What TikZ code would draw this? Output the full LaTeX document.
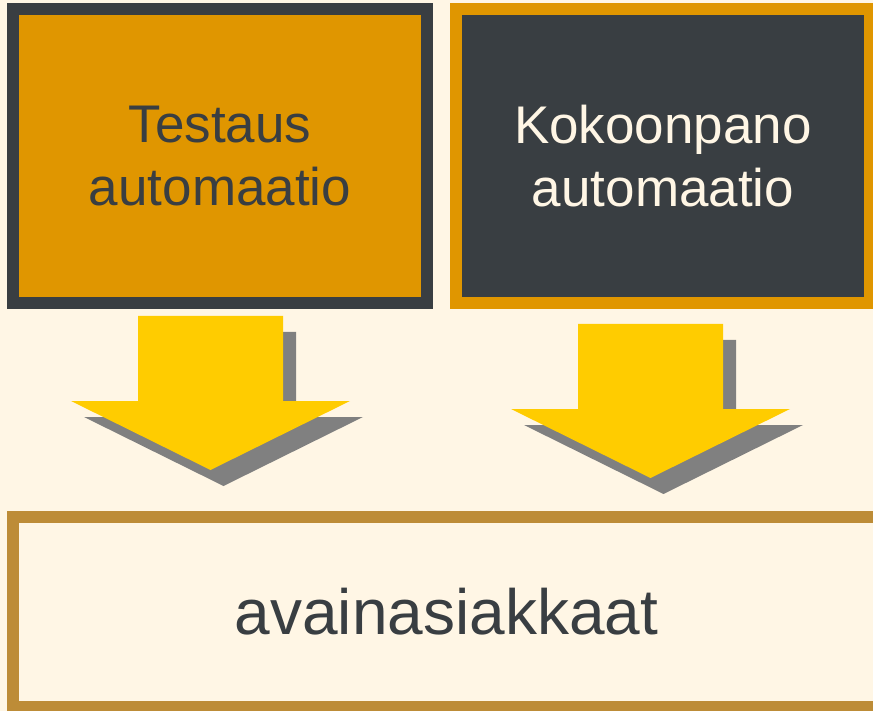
\documentclass[tikz,border=0pt]{standalone}
\usepackage{fontspec}
\setmainfont{Liberation Sans}
\usetikzlibrary{positioning}

\definecolor{bgcream}{HTML}{FFF6E5}
\definecolor{boxorange}{HTML}{E09600}
\definecolor{boxdark}{HTML}{393E42}
\definecolor{rimgold}{HTML}{BD8C37}
\definecolor{arrowyellow}{HTML}{FFCC00}
\definecolor{shadowgray}{HTML}{808080}

\tikzset{
  topbox/.style={draw, line width=12pt, minimum width=414pt, minimum height=294pt,
    inner sep=0pt, align=center, font=\fontsize{53}{63}\selectfont},
  pics/downblock/.style={code={
    \fill[shadowgray, shift={(13,16)}] (-72.5,0) -- (72.5,0) -- (72.5,85) -- (139.5,85)
      -- (0,154) -- (-139.5,85) -- (-72.5,85) -- cycle;
    \fill[arrowyellow] (-72.5,0) -- (72.5,0) -- (72.5,85) -- (139.5,85)
      -- (0,154) -- (-139.5,85) -- (-72.5,85) -- cycle;
  }}
}

\begin{document}
\begin{tikzpicture}[x=1pt,y=-1pt]
   \fill[bgcream] (0,0) rectangle (873,711);
   \useasboundingbox (0,0) rectangle (873,711);
   \node[topbox, fill=boxorange, draw=boxdark, text=boxdark] (testaus) at (220,156) {Testaus\\automaatio};
   \node[topbox, fill=boxdark, draw=boxorange, text=bgcream, right=17pt of testaus] (kokoonpano) {Kokoonpano\\automaatio};
   \node[draw=rimgold, fill=bgcream, line width=12pt, minimum width=867pt, minimum height=190.5pt,
     inner sep=0pt, text=boxdark, font=\fontsize{64}{76}\selectfont] (asiakkaat) at (446.5,611.75) {avainasiakkaat};
   \pic at (210.5,316) {downblock};
   \pic at (650.5,324) {downblock};
\end{tikzpicture}
\end{document}
